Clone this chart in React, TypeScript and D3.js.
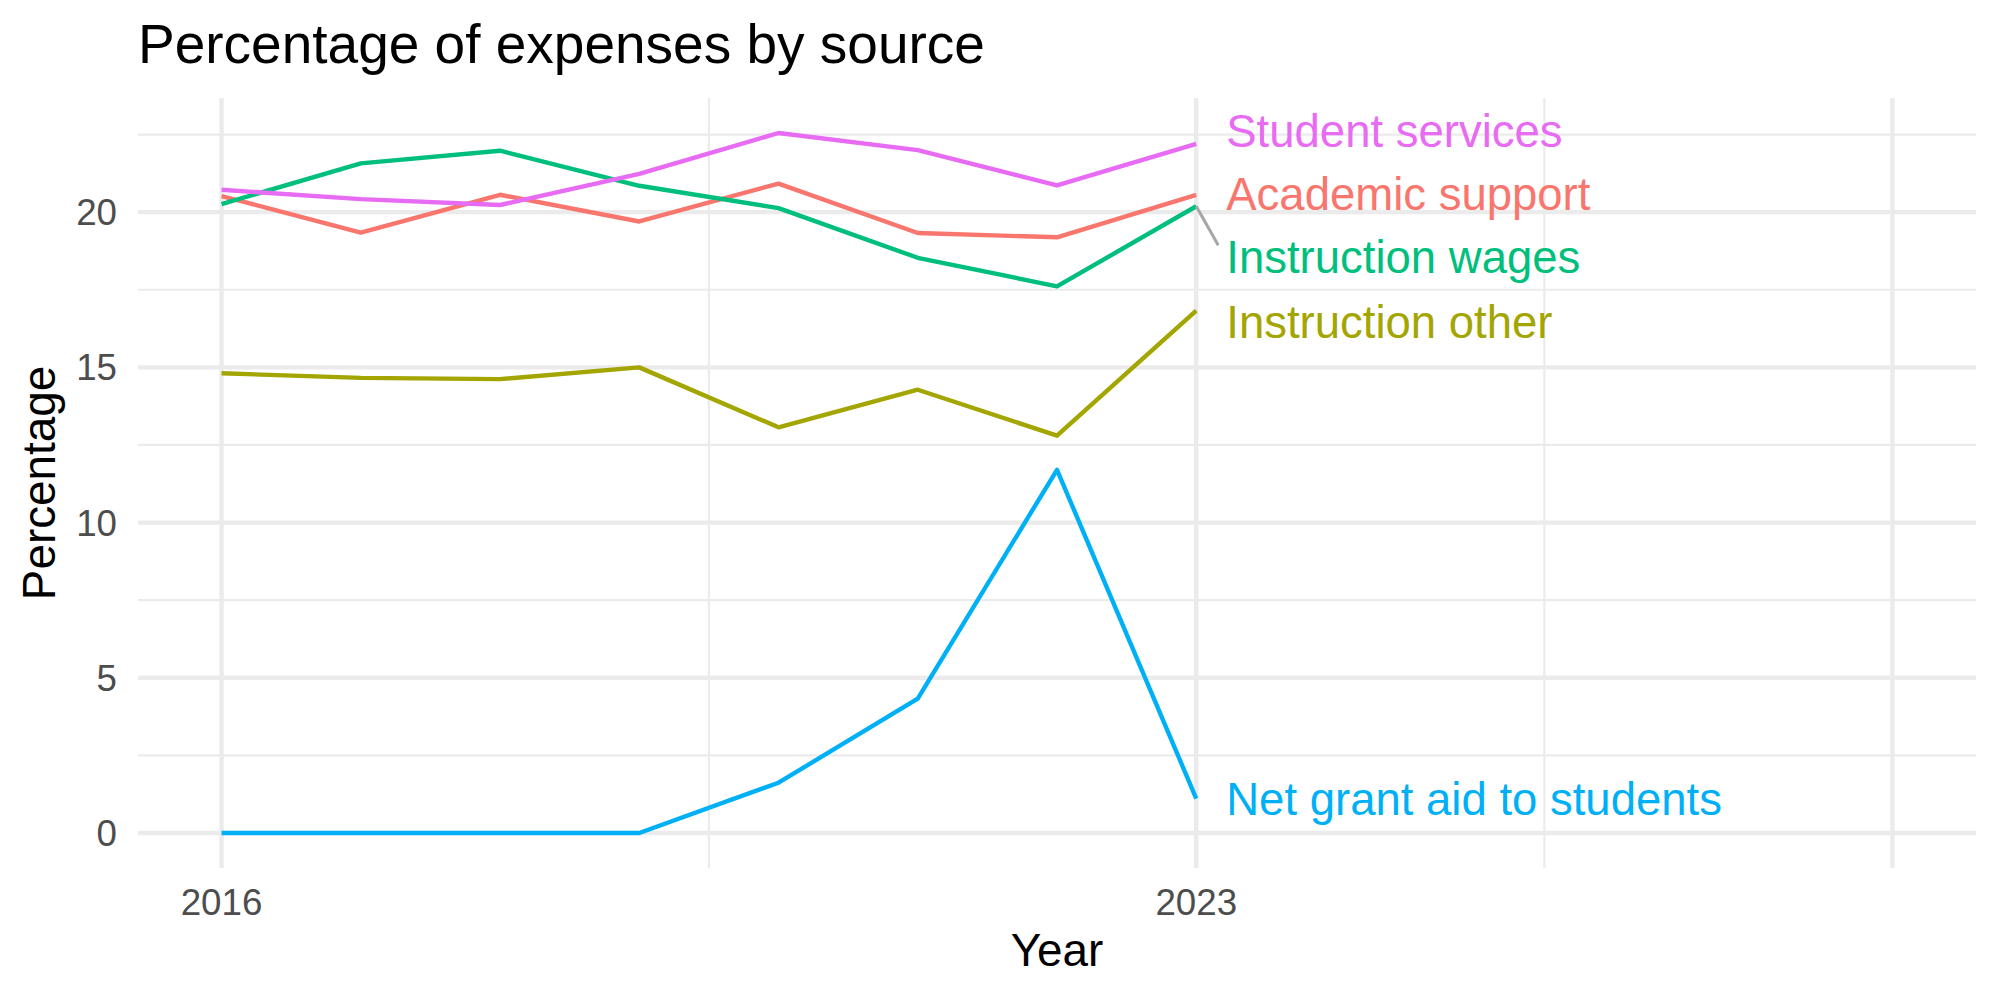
import React from 'react';
import * as d3 from 'd3';

// values (percent of expenses)
const years = [2016, 2017, 2018, 2019, 2020, 2021, 2022, 2023];
const seriesNames = ['Academic support', 'Instruction other', 'Instruction wages', 'Net grant aid to students', 'Student services'];
const academicSupport = [20.52, 19.34, 20.56, 19.7, 20.92, 19.33, 19.19, 20.56];
const instructionOther = [14.81, 14.66, 14.62, 15.0, 13.07, 14.28, 12.8, 16.83];
const instructionWages = [20.26, 21.57, 21.98, 20.85, 20.13, 18.53, 17.61, 20.19];
const netGrantAid = [0, 0, 0, 0, 1.62, 4.33, 11.7, 1.11];
const studentServices = [20.72, 20.42, 20.23, 21.23, 22.55, 22.0, 20.86, 22.2];

const xBreaks = [2016, 2023, 2028];
const xLabels = ['2016', '2023', ''];
const xLimits = [2016, 2028];
const yBreaks = [0, 5, 10, 15, 20];

const W = 2000;
const H = 1000;
const FONT = '"Liberation Sans", Arial, Helvetica, sans-serif';

const App = () => {
    const margin = { top: 98, right: 24, bottom: 132, left: 138 };
    const panelR = W - margin.right;
    const panelB = H - margin.bottom;

    const allValues = [academicSupport, instructionOther, instructionWages, netGrantAid, studentServices];
    const colors = d3.quantize(t => d3.hcl(15 + 360 * t, 100, 65).formatHex(), 6).slice(0, 5);
    const palette = ['#F8766D', '#A3A500', '#00BF7D', '#00B0F6', '#E76BF3'];

    // ggplot-style 5% expansion
    const xSpan = xLimits[1] - xLimits[0];
    const x = d3.scaleLinear()
        .domain([xLimits[0] - xSpan * 0.05, xLimits[1] + xSpan * 0.05])
        .range([margin.left, panelR]);
    const yMin = d3.min(allValues.flat());
    const yMax = d3.max(allValues.flat());
    const ySpan = yMax - yMin;
    const y = d3.scaleLinear()
        .domain([yMin - ySpan * 0.05, yMax + ySpan * 0.05])
        .range([panelB, margin.top]);

    const xMinor = d3.pairs(xBreaks).map(([a, b]) => (a + b) / 2);
    const yMinor = [...d3.pairs(yBreaks).map(([a, b]) => (a + b) / 2), yBreaks[yBreaks.length - 1] + 2.5]
        .filter(v => v >= y.domain()[0] && v <= y.domain()[1]);

    const line = d3.line<number>()
        .x((d, i) => x(years[i]))
        .y(d => y(d));

    // label placement: stack the end labels so they do not overlap
    const lastYear = years[years.length - 1];
    const gap = 63;
    const ends = seriesNames.map((name, i) => ({
        name, color: palette[i], target: y(allValues[i][allValues[i].length - 1]), pos: 0,
    })).sort((a, b) => a.target - b.target);

    // push down from the top
    const stacked: number[] = [];
    ends.forEach((e, i) => {
        stacked.push(i === 0 ? e.target : Math.max(e.target, stacked[i - 1] + gap));
    });
    // centred clusters
    let clusters = ends.map(e => ({ items: [e], mean: e.target }));
    let merged = true;
    while (merged) {
        merged = false;
        for (let i = 0; i < clusters.length - 1; i++) {
            const a = clusters[i];
            const b = clusters[i + 1];
            const aEnd = a.mean + (a.items.length - 1) * gap / 2;
            const bStart = b.mean - (b.items.length - 1) * gap / 2;
            if (bStart - aEnd < gap) {
                const items = [...a.items, ...b.items];
                clusters.splice(i, 2, { items, mean: d3.mean(items, d => d.target) });
                merged = true;
                break;
            }
        }
    }
    const centred = new Map();
    clusters.forEach(c => c.items.forEach((e, k) => {
        centred.set(e.name, c.mean + (k - (c.items.length - 1) / 2) * gap);
    }));
    ends.forEach((e, i) => { e.pos = (stacked[i] + centred.get(e.name)) / 2; });

    const labelX = x(lastYear) + 30;

    return (
        <div style={{ position: 'absolute', left: 0, top: 0 }}>
            <svg width={W} height={H} style={{ display: 'block', background: '#fff' }} fontFamily={FONT}>
                {/* grid */}
                {yMinor.map(v => (
                    <line key={'ym' + v} x1={margin.left} x2={panelR} y1={y(v)} y2={y(v)} stroke="#EBEBEB" strokeWidth={2.2} />
                ))}
                {xMinor.map(v => (
                    <line key={'xm' + v} x1={x(v)} x2={x(v)} y1={margin.top} y2={panelB} stroke="#EBEBEB" strokeWidth={2.2} />
                ))}
                {yBreaks.map(v => (
                    <line key={'y' + v} x1={margin.left} x2={panelR} y1={y(v)} y2={y(v)} stroke="#EBEBEB" strokeWidth={4.4} />
                ))}
                {xBreaks.map(v => (
                    <line key={'x' + v} x1={x(v)} x2={x(v)} y1={margin.top} y2={panelB} stroke="#EBEBEB" strokeWidth={4.4} />
                ))}

                {/* series */}
                {allValues.map((vals, i) => (
                    <path key={seriesNames[i]} d={line(vals)} fill="none" stroke={palette[i]} strokeWidth={4.4} strokeLinejoin="round" />
                ))}

                {/* leader segments for labels pushed far from their point */}
                {ends.filter(e => Math.abs(e.pos - e.target) > 24).map(e => (
                    <line key={'seg' + e.name} x1={x(lastYear)} y1={e.target} x2={labelX - 8} y2={e.pos - 12}
                        stroke="#A6A6A6" strokeWidth={3} />
                ))}

                {/* end labels */}
                {ends.map(e => (
                    <text key={'lab' + e.name} x={labelX} y={e.pos} dy="0.355em" fill={e.color} fontSize={45.5}>
                        {e.name}
                    </text>
                ))}

                {/* axes text */}
                {yBreaks.map(v => (
                    <text key={'yt' + v} x={margin.left - 21} y={y(v)} dy="0.355em" textAnchor="end" fill="#4D4D4D" fontSize={36.7}>
                        {v}
                    </text>
                ))}
                {xBreaks.map((v, i) => (
                    <text key={'xt' + v} x={x(v)} y={panelB + 47} textAnchor="middle" fill="#4D4D4D" fontSize={36.7}>
                        {xLabels[i]}
                    </text>
                ))}
                <text x={(margin.left + panelR) / 2} y={966} textAnchor="middle" fill="#000" fontSize={45.8}>Year</text>
                <text transform={`translate(55,${(margin.top + panelB) / 2}) rotate(-90)`} textAnchor="middle" fill="#000" fontSize={45.8}>
                    Percentage
                </text>
                <text x={margin.left} y={63} fill="#000" fontSize={55}>Percentage of expenses by source</text>
            </svg>
        </div>
    );
};

export default App;
